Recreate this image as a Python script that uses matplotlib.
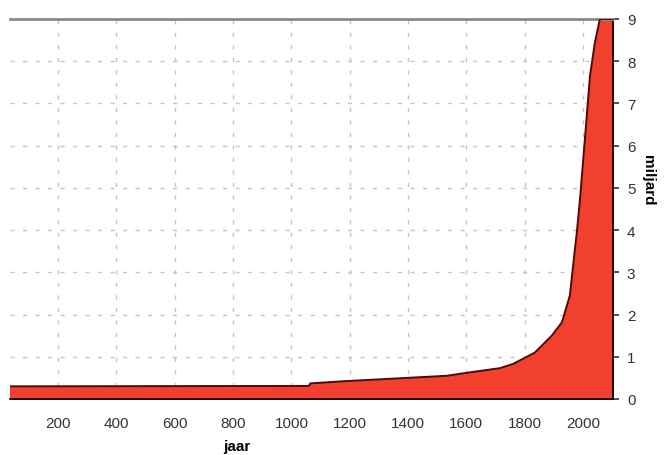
import matplotlib.pyplot as plt
from matplotlib.ticker import MultipleLocator

plt.rcParams['font.family'] = ['Liberation Sans', 'DejaVu Sans']

jaren = [35, 1060, 1065, 1177, 1314, 1533, 1600, 1715, 1760, 1835, 1893, 1928,
         1955, 1966, 1979, 1990, 2013, 2024, 2041, 2058, 2103]
miljard = [0.3, 0.31, 0.37, 0.42, 0.47, 0.55, 0.62, 0.73, 0.83, 1.1, 1.5, 1.82,
           2.45, 3.15, 3.95, 4.75, 6.7, 7.65, 8.45, 9.0, 9.0]
x_ticks = [200, 400, 600, 800, 1000, 1200, 1400, 1600, 1800, 2000]
y_ticks = list(range(10))

fig = plt.figure(figsize=(6.65, 4.56), dpi=100)
ax = fig.add_axes([10/665, 1-400/456, (613-10)/665, 380/456])

ax.fill_between(jaren, miljard, 0, color='#f2402e', zorder=2)
ax.plot(jaren, miljard, color='#4a0c0c', lw=1.4, zorder=3)

ax.set_xlim(35, 2103)
ax.set_ylim(0, 9)
ax.set_xticks(x_ticks)
ax.set_yticks(y_ticks)
ax.xaxis.set_minor_locator(MultipleLocator(50))
ax.yaxis.tick_right()
ax.yaxis.set_label_position('right')
ax.tick_params(axis='x', direction='in', length=4, width=1, labelsize=11, pad=12,
               colors='#333333')
ax.tick_params(axis='x', which='minor', direction='in', length=3, width=1)
ax.tick_params(axis='y', direction='out', length=4, width=1.2, labelsize=11, pad=6,
               colors='#333333')

ax.grid(True, ls=(0, (3, 6)), color='#c4c4c4', lw=1, zorder=1)

ax.spines['left'].set_visible(False)
ax.spines['top'].set_color('#8a8a8a')
ax.spines['top'].set_linewidth(2)
ax.spines['bottom'].set_linewidth(1.2)
ax.spines['right'].set_linewidth(1.2)

ax.set_xlabel('jaar', fontsize=11, fontweight='bold', labelpad=0)
ax.xaxis.set_label_coords((237-10)/603, -40/380)
ax.set_ylabel('miljard', fontsize=11, fontweight='bold', rotation=270, labelpad=12)
ax.yaxis.set_label_coords((655-10)/603, (400-180)/380)

fig.savefig('out.png', dpi=100)
